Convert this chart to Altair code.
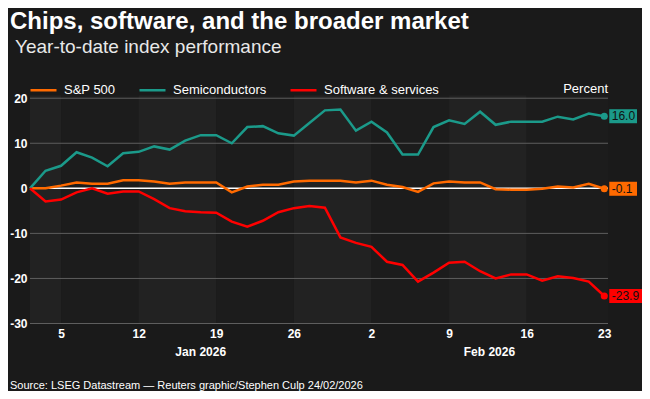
import altair as alt
import pandas as pd

# ---------------- data ----------------
series_names = ["S&P 500", "Semiconductors", "Software & services"]
series_colors = ["#ff6a00", "#1b9a8a", "#ff0000"]

# trading-day index 0 (start, = 0%) .. 37 (Feb 23)
sp500 = [0, 0.0, 0.6, 1.3, 1.0, 1.0, 1.8, 1.8, 1.5, 1.0, 1.3, 1.3, 1.3,
         -0.9, 0.4, 0.8, 0.8, 1.5, 1.7, 1.7, 1.7, 1.3, 1.7, 0.8, 0.3, -0.8,
         1.1, 1.5, 1.3, 1.3, -0.2, -0.3, -0.3, -0.1, 0.4, 0.2, 1.0, -0.1]
semis = [0, 3.9, 5.0, 8.0, 6.8, 4.9, 7.8, 8.1, 9.3, 8.6, 10.6, 11.8, 11.8,
         10.0, 13.6, 13.8, 12.2, 11.7, 14.5, 17.3, 17.5, 12.8, 14.8, 12.4, 7.5, 7.5,
         13.6, 15.1, 14.3, 17.0, 14.1, 14.8, 14.8, 14.8, 15.9, 15.3, 16.6, 16.0]
software = [0, -2.9, -2.5, -0.9, 0.0, -1.2, -0.7, -0.7, -2.4, -4.4, -5.1, -5.3, -5.4,
            -7.4, -8.5, -7.2, -5.3, -4.4, -3.9, -4.3, -10.9, -12.1, -13.0, -16.3, -17.0, -20.7,
            -18.7, -16.5, -16.3, -18.4, -20.0, -19.1, -19.1, -20.5, -19.5, -19.9, -20.7, -23.9]

tick_idx = [2, 7, 12, 17, 22, 27, 32, 37]
tick_labels = ["5", "12", "19", "26", "2", "9", "16", "23"]
month_labels = ["Jan 2026", "Feb 2026"]
month_idx = [11.0, 29.6]
week_starts = [0, 2, 7, 12, 17, 22, 27, 32]
week_ends = [2, 7, 12, 17, 22, 27, 32, 37.24]
week_shade = ["#222222", "#1c1c1c", "#222222", "#1c1c1c",
              "#222222", "#1c1c1c", "#222222", "#1c1c1c"]
grid_values = [-30, -20, -10, 10, 20]
y_ticks = [-30, -20, -10, 0, 10, 20]

title_text = "Chips, software, and the broader market"
subtitle_text = "Year-to-date index performance"
unit_text = "Percent"
source_text = "Source: LSEG Datastream \u2014 Reuters graphic/Stephen Culp 24/02/2026"

# ---------------- tables ----------------
rows = []
for name, vals in zip(series_names, [sp500, semis, software]):
    for i, v in enumerate(vals):
        rows.append({"idx": i, "value": v, "series": name})
df = pd.DataFrame(rows)
last = df[df["idx"] == df["idx"].max()]

bands = pd.DataFrame({"start": week_starts, "end": week_ends, "shade": week_shade})
grid = pd.DataFrame({"g": grid_values})
months = pd.DataFrame({"m": month_labels, "idx": month_idx})

W, H = 578, 228
XMAX, YMIN, YMAX = 37.24, -30, 20.6
FONT = "Liberation Sans"

xscale = alt.Scale(domain=[0, XMAX], nice=False, zero=False)
yscale = alt.Scale(domain=[YMIN, YMAX], nice=False, zero=False)
label_expr = "[" + ",".join("'%s'" % t for t in tick_labels) + "][indexof([" + \
    ",".join(str(t) for t in tick_idx) + "], datum.value)]"
xaxis = alt.Axis(values=tick_idx, labelExpr=label_expr, title=None, grid=False,
                 domain=False, ticks=False, labelColor="white", labelFontSize=12,
                 labelFontWeight="bold", labelFont=FONT, labelPadding=5)
yaxis = alt.Axis(values=y_ticks, title=None, grid=False, domain=False, ticks=False,
                 labelExpr="replace(datum.label, '\u2212', '-')",
                 labelColor="white", labelFontSize=12, labelFontWeight="bold",
                 labelFont=FONT, labelPadding=3)
legend = alt.Legend(orient="none", legendX=-1, legendY=-20, direction="horizontal",
                    title=None, symbolType="stroke", symbolSize=676,
                    symbolStrokeWidth=2.5, labelColor="white", labelFontSize=13,
                    labelFont=FONT, columnPadding=18, labelOffset=6, padding=0)
color = alt.Color("series:N", scale=alt.Scale(domain=series_names, range=series_colors),
                  legend=legend)

band_layer = alt.Chart(bands).mark_rect().encode(
    x=alt.X("start:Q", scale=xscale, axis=xaxis),
    x2="end:Q",
    y=alt.Y("y1:Q", scale=yscale, axis=yaxis),
    y2="y2:Q",
    fill=alt.Fill("shade:N", scale=None),
).transform_calculate(y1=str(YMAX), y2=str(YMIN))

grid_layer = alt.Chart(grid).mark_rule(color="#5e5e5e", strokeWidth=1).encode(
    y=alt.Y("g:Q", scale=yscale, axis=yaxis))

zero_layer = alt.Chart(pd.DataFrame({"z": [0]})).mark_rule(color="white", strokeWidth=1.5).encode(
    y=alt.Y("z:Q", scale=yscale, axis=yaxis))

lines = alt.Chart(df).mark_line(strokeWidth=2.5).encode(
    x=alt.X("idx:Q", scale=xscale, axis=xaxis),
    y=alt.Y("value:Q", scale=yscale, axis=yaxis),
    color=color,
)

dots = alt.Chart(last).mark_circle(size=50, opacity=1).encode(
    x=alt.X("idx:Q", scale=xscale, axis=xaxis),
    y=alt.Y("value:Q", scale=yscale, axis=yaxis),
    color=color,
)

box_base = alt.Chart(last).transform_calculate(
    label="replace(format(datum.value, '.1f'), '\u2212', '-')",
    bx1="datum.idx + 5/15.52",
).transform_calculate(
    bx2="datum.bx1 + (length(datum.label) * 5.8 + 4.5) / 15.52",
    by1="datum.value - 7/4.5",
    by2="datum.value + 7/4.5",
)
boxes = box_base.mark_rect(opacity=1).encode(
    x=alt.X("bx1:Q", scale=xscale, axis=xaxis),
    x2="bx2:Q",
    y=alt.Y("by1:Q", scale=yscale, axis=yaxis),
    y2="by2:Q",
    color=color,
)
box_text = box_base.mark_text(align="left", baseline="middle", dx=2.5, fontSize=12,
                              font=FONT, color="#111111").encode(
    x=alt.X("bx1:Q", scale=xscale, axis=xaxis),
    y=alt.Y("value:Q", scale=yscale, axis=yaxis),
    text="label:N",
)

month_layer = alt.Chart(months).mark_text(fontSize=12, fontWeight="bold", font=FONT,
                                          color="white", baseline="middle").encode(
    x=alt.X("idx:Q", scale=xscale, axis=xaxis),
    y=alt.value(256.5),
    text="m:N",
)


def label(text, x, y, size, weight="normal", align="left", col="white"):
    return alt.Chart(pd.DataFrame({"t": [text]})).mark_text(
        fontSize=size, fontWeight=weight, font=FONT, color=col, align=align,
        baseline="alphabetic").encode(text="t:N", x=alt.value(x), y=alt.value(y))


title_layer = label(title_text, -20, -66.5, 24, "bold")
subtitle_layer = label(subtitle_text, -15, -42.5, 19, "normal", col="#e8e8e8")
unit_layer = label(unit_text, 578, -2.5, 13, align="right")
source_layer = label(source_text, -20, 293, 11)

chart = alt.layer(
    band_layer, grid_layer, zero_layer, lines, dots, boxes, box_text,
    month_layer, title_layer, subtitle_layer, unit_layer, source_layer,
).properties(
    width=W, height=H,
    background="#1a1a1a",
    padding={"left": 22, "top": 87.5, "right": 34, "bottom": 67.5},
    autosize=alt.AutoSizeParams(type="none"),
).configure_view(stroke=None)

chart.save("out.html", embed_options={"renderer": "svg", "actions": False})
